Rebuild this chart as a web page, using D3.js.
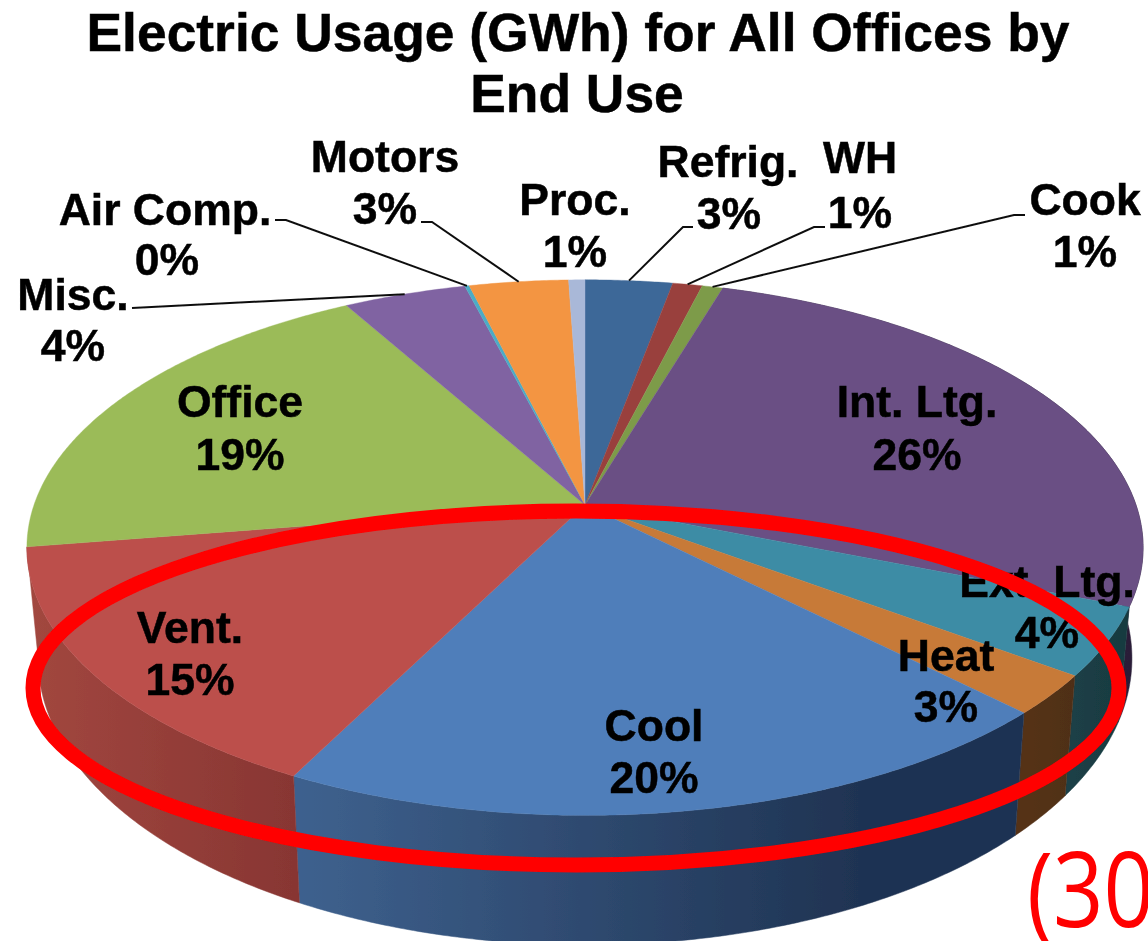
<!DOCTYPE html>
<html><head><meta charset="utf-8">
<script src="https://cdn.jsdelivr.net/npm/d3@7"></script>
<style>
html,body{margin:0;padding:0;background:#fff;overflow:hidden}
svg{display:block}
text{font-family:"Liberation Sans",Arial,sans-serif;font-weight:700;fill:#000;text-anchor:middle;stroke:#000;stroke-width:0.5px}
</style></head><body>
<svg id="c" width="1148" height="941"></svg>
<script>
const titleLines = ["Electric Usage (GWh) for All Offices by", "End Use"];
const categories = ["Refrig.","WH","Cook","Int. Ltg.","Ext. Ltg.","Heat","Cool","Vent.","Office","Misc.","Air Comp.","Motors","Proc."];
const shares =     [2.95,1.0,0.7,26.35,4.1,2.4,20.0,15.0,19.3,4.15,0.15,3.35,0.55];
const percentLabels = ["3%","1%","1%","26%","4%","3%","20%","15%","19%","4%","0%","3%","1%"];
const topColors =  ["#3E6898","#99403C","#7D9B4A","#6A5084","#3C8CA5","#C77A38","#4F7EBA","#BC4F4C","#9BBB59","#8064A2","#4BACC6","#F39542","#A9B8D8"];
const wallLeft =   ["#2B4565","#662A28","#536631","#3A2C4A","#1B3F46","#553219","#3E618E","#A2473F","#6E863F","#5A4672","#357A8D","#A8672C","#7A86A0"];
const wallRight =  ["#2B4565","#662A28","#536631","#2A1F38","#183A40","#4F2F17","#1F3352","#883633","#6E863F","#5A4672","#357A8D","#A8672C","#7A86A0"];

const svg = d3.select("#c");
const defs = svg.append("defs");
defs.append("filter").attr("id","soft").append("feGaussianBlur").attr("stdDeviation",0.7);
const root = svg.append("g").attr("filter","url(#soft)");

// perspective disc
const cx=585, cy=505, a=551, b=261, k=0.159;
function topPt(t){const x=Math.sin(t),y=-Math.cos(t),w=1-k*y;return [cx+a*x/w,cy+b*y/w];}
function botPt(t){const p=topPt(t);return [cx+0.98*(p[0]-cx),1.07*p[1]+72.6];}
function arcPts(f,s,e){const n=Math.max(2,Math.ceil((e-s)/0.008));return d3.range(n+1).map(i=>f(s+(e-s)*i/n));}
const line=d3.line();
const slices=d3.pie().sort(null).value(d=>d)(shares);

// side walls
const deg=Math.PI/180;
const walls=slices.map((s,i)=>({s,i})).filter(d=>d.s.endAngle>85*deg&&d.s.startAngle<255*deg);
walls.forEach(({s,i})=>{
  const id="w"+i;
  const x0=topPt(s.startAngle)[0], x1=topPt(s.endAngle)[0];
  const g=defs.append("linearGradient").attr("id",id).attr("gradientUnits","userSpaceOnUse")
    .attr("x1",i===6?300:Math.min(x0,x1)).attr("x2",i===6?860:Math.max(x0,x1)).attr("y1",0).attr("y2",0);
  g.append("stop").attr("offset",0).attr("stop-color",wallLeft[i]);
  g.append("stop").attr("offset",1).attr("stop-color",wallRight[i]);
  const pts=arcPts(topPt,s.startAngle,s.endAngle).concat(arcPts(botPt,s.startAngle,s.endAngle).reverse());
  root.append("path").attr("d",line(pts)+"Z").attr("fill",`url(#${id})`).attr("stroke",`url(#${id})`).attr("stroke-width",0.5);
});

// top surface
slices.forEach((s,i)=>{
  const pts=[[cx,cy]].concat(arcPts(topPt,s.startAngle,s.endAngle));
  root.append("path").attr("d",line(pts)+"Z").attr("fill",topColors[i]).attr("stroke",topColors[i]).attr("stroke-width",0.4);
});

// leader lines: [category index, label-side start, elbow]
const leaders=[[9,[132,308]],[10,[275,220],[286,220]],[11,[421,222],[432,222]],[0,[693,227],[683,227]],[1,[825,227],[814,227]],[2,[1025,215],[1014,215]]];
leaders.forEach(l=>{
  const s=slices[l[0]];
  const end=topPt((s.startAngle+s.endAngle)/2);
  root.append("path").attr("d",line(l.slice(1).concat([end]))).attr("fill","none").attr("stroke","#111").attr("stroke-width",2);
});

// text
const fs=44.5;
root.append("text").attr("x",578).attr("y",51).attr("font-size",53.4).text(titleLines[0]);
root.append("text").attr("x",577).attr("y",112).attr("font-size",53.4).text(titleLines[1]);
const labelPos=[[728,177,729,229],[860,173,860,228],[1085,215,1085,267],[917,417,917,470],[1047,597,1047,648],[946,671,946,722],[654,741,654,793],[190,643,190,695],[240,417,240,470],[73,310,73,361],[165,225,167,275],[385,172,385,224],[575,215,575,267]];
categories.forEach((c,i)=>{
  const p=labelPos[i];
  root.append("text").attr("x",p[0]).attr("y",p[1]).attr("font-size",fs).text(c);
  root.append("text").attr("x",p[2]).attr("y",p[3]).attr("font-size",fs).text(percentLabels[i]);
});

// highlight ring
root.append("ellipse").attr("cx",576).attr("cy",688).attr("rx",543).attr("ry",177).attr("fill","none").attr("stroke","#ff0000").attr("stroke-width",15);
root.append("text").attr("transform","translate(1027,927) scale(0.85,1)")
  .style("font-family","'Open Sans'").style("font-weight",400).style("fill","#ff0000").style("stroke","none").style("text-anchor","start")
  .attr("font-size",104).text("(30");
</script></body></html>
